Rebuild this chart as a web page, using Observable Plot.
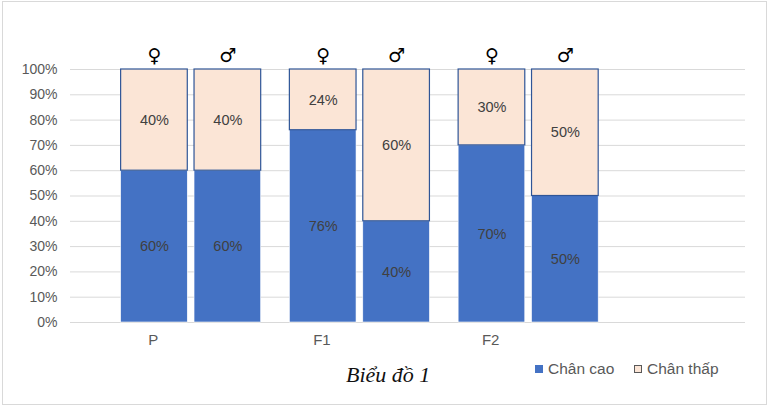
<!DOCTYPE html>
<html>
<head>
<meta charset="utf-8">
<script src="https://cdn.jsdelivr.net/npm/d3@7"></script>
<script src="https://cdn.jsdelivr.net/npm/@observablehq/plot@0.6"></script>
<style>
  body { margin: 0; background: #fff; font-family: "Liberation Sans", Arial, sans-serif; }
  #frame { position: absolute; left: 2px; top: 1px; width: 765px; height: 404px; box-sizing: border-box; border: 1px solid #d9d9d9; }
  #chart { position: absolute; left: 0; top: 0; }
  #title { position: absolute; left: 346px; top: 362px; font-family: "Liberation Serif", "Times New Roman", serif; font-style: italic; font-size: 22px; color: #111; }
  .leg { position: absolute; top: 360px; font-size: 15.5px; color: #595959; display: flex; align-items: center; }
  .sw { width: 8px; height: 8px; margin-right: 5px; box-sizing: border-box; }
</style>
</head>
<body>
<div id="frame"></div>
<div id="chart"></div>
<div id="title">Biểu đồ 1</div>
<div class="leg" style="left:535px"><div class="sw" style="background:#4472C4"></div>Chân cao</div>
<div class="leg" style="left:634px"><div class="sw" style="background:#FBE5D6;border:1px solid #595959"></div>Chân thấp</div>
<script>
const groups = ["P", "F1", "F2"];
const sexes = ["♀", "♂"];
const caoFemale = [60, 76, 70];
const caoMale = [60, 40, 50];
const thapFemale = [40, 24, 30];
const thapMale = [40, 60, 50];
const yTicks = [0, 10, 20, 30, 40, 50, 60, 70, 80, 90, 100];

// layout offsets of each bar within a group slot (x scale unit = one group)
const slot = {"♀": [0.30, 0.695], "♂": [0.735, 1.13]};

const rows = [];
groups.forEach((g, i) => {
  sexes.forEach(s => {
    const cao = s === "♀" ? caoFemale[i] : caoMale[i];
    const thap = s === "♀" ? thapFemale[i] : thapMale[i];
    rows.push({group: g, gi: i, sex: s, cao, thap,
      x1: i + slot[s][0], x2: i + slot[s][1]});
  });
});

const labelFont = {fontSize: 14.5, fill: "#404040"};
const plot = Plot.plot({
  width: 771,
  height: 350,
  marginLeft: 70,
  marginRight: 26,
  marginTop: 69,
  marginBottom: 28,
  style: {fontFamily: "'Liberation Sans', Arial, sans-serif", background: "transparent"},
  x: {type: "linear", domain: [0, 4], axis: null, label: null},
  y: {domain: [0, 100], axis: null, label: null},
  marks: [
    Plot.ruleY(yTicks, {stroke: "#d9d9d9", strokeWidth: 1}),
    Plot.axisY({ticks: yTicks, label: null, tickSize: 0, tickPadding: 13, tickFormat: d => d + "%", fontSize: 14, color: "#595959"}),
    Plot.axisX({ticks: groups.map((g, i) => i + 0.49), label: null, tickFormat: d => groups[Math.floor(d)], tickSize: 0, tickPadding: 12, fontSize: 15, color: "#595959"}),
    Plot.rect(rows, {x1: "x1", x2: "x2", y1: 0, y2: "cao", fill: "#4472C4", stroke: "#fff", strokeWidth: 0.6}),
    Plot.rect(rows, {x1: "x1", x2: "x2", y1: "cao", y2: d => d.cao + d.thap, fill: "#FBE5D6", stroke: "#2F5597", strokeWidth: 1.2}),
    Plot.text(rows, {x: d => (d.x1 + d.x2) / 2, y: d => d.cao / 2, text: d => d.cao + "%", ...labelFont}),
    Plot.text(rows, {x: d => (d.x1 + d.x2) / 2, y: d => d.cao + d.thap / 2, text: d => d.thap + "%", ...labelFont}),
    Plot.text(rows, {x: d => (d.x1 + d.x2) / 2, y: d => d.cao + d.thap, dy: -14, text: "sex", fontSize: 19, fill: "#000", fontFamily: "DejaVu Sans"})
  ]
});
document.getElementById("chart").appendChild(plot);
</script>
</body>
</html>
